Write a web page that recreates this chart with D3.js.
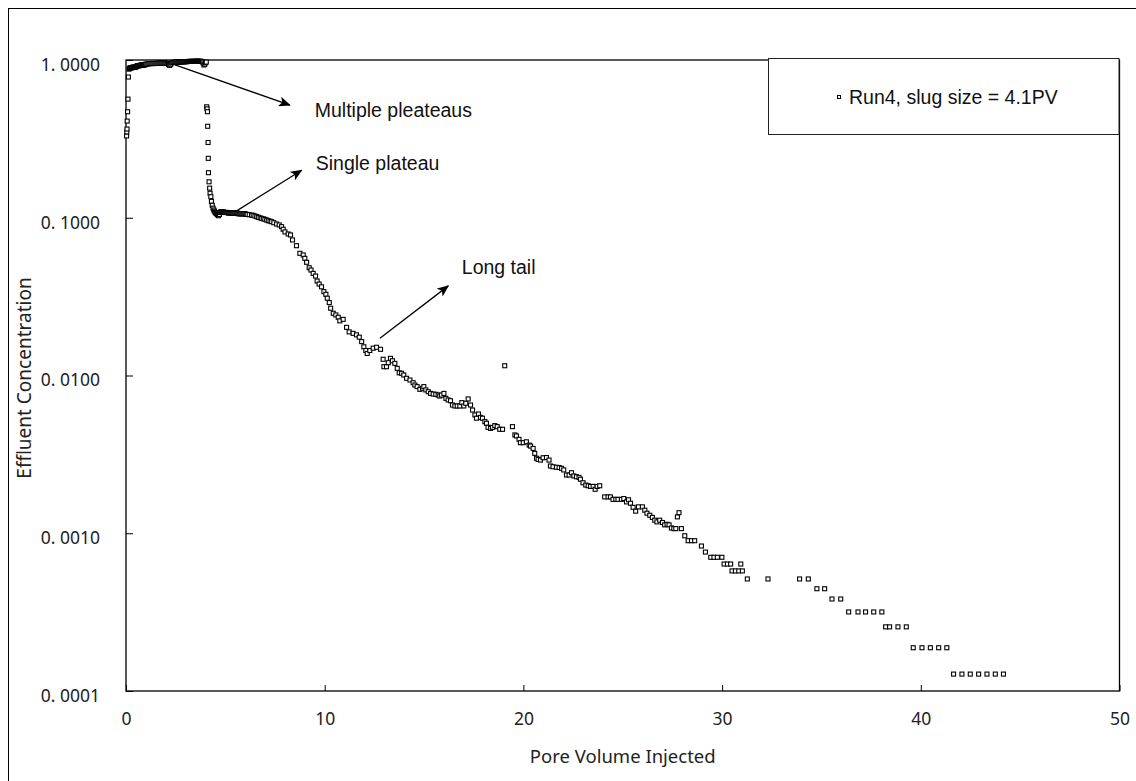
<!DOCTYPE html>
<html><head><meta charset="utf-8">
<script src="https://cdn.jsdelivr.net/npm/d3@7"></script>
<style>
html,body{margin:0;padding:0;background:#fff;}
svg{display:block;}
</style>
</head><body>
<svg id="chart" width="1136" height="781"></svg>
<script>
// ---- data ----
const seriesName = "Run4, slug size = 4.1PV";
const pvInjected = [
0.03,0.04,0.05,0.06,0.08,0.10,0.12,
0.15,0.18,0.20,0.23,0.25,0.28,0.30,0.33,0.35,0.38,0.40,0.43,0.45,0.48,0.50,0.53,0.55,0.58,0.60,0.63,0.65,0.68,0.70,0.73,0.75,0.78,0.80,0.83,0.85,0.88,0.90,0.93,0.95,0.98,1.00,
1.05,1.10,1.15,1.20,1.25,1.30,1.35,1.40,1.45,1.50,1.55,1.60,1.65,1.70,1.75,1.80,1.85,1.90,1.95,2.00,2.05,2.10,2.14,2.17,2.20,2.25,2.30,2.35,2.40,2.45,2.50,2.55,2.60,2.65,2.70,2.75,2.80,2.85,2.90,2.95,3.00,
3.05,3.10,3.15,3.20,3.25,3.30,3.35,3.40,3.45,3.50,3.55,3.60,3.65,3.70,3.75,3.80,3.85,3.88,3.92,3.96,4.00,4.04,
4.06,4.08,4.10,4.11,4.13,4.14,4.15,4.18,4.21,4.23,4.27,4.30,4.34,4.38,4.42,4.45,4.49,4.52,4.56,4.60,4.63,4.66,4.70,4.73,4.77,
4.80,4.85,4.90,4.95,5.00,5.05,5.10,5.15,5.20,5.25,5.30,5.35,5.40,5.45,5.50,5.55,5.60,5.65,5.70,5.75,5.80,5.85,5.90,5.95,6.00,6.05,6.10,6.20,6.32,6.40,6.49,6.58,6.66,6.75,6.83,6.91,6.99,7.08,7.16,7.25,7.33,7.44,7.58,7.71,7.83,7.91,8.00,
8.16,8.28,8.38,8.58,8.75,8.92,9.00,9.09,9.22,9.31,9.42,9.54,9.62,9.72,9.84,9.96,10.06,10.13,10.23,10.30,10.43,10.56,10.68,10.76,10.93,
11.10,11.23,11.43,11.60,11.74,11.86,11.97,12.07,12.14,12.27,12.44,12.61,12.81,
12.94,12.98,13.11,13.20,13.31,13.41,13.53,13.65,13.75,13.87,13.98,14.12,14.29,14.45,14.54,14.65,14.79,14.92,14.99,15.09,15.21,15.33,15.46,15.59,15.71,15.79,15.88,16.00,
16.10,16.21,16.33,16.43,16.55,16.67,16.80,16.90,17.00,17.10,17.22,17.34,17.44,17.56,17.64,17.74,17.84,17.94,18.06,18.14,18.22,18.35,18.45,18.56,18.68,18.81,18.95,
19.06,19.45,19.57,19.65,19.78,19.85,19.99,20.15,20.29,20.36,20.49,20.57,20.66,20.74,20.86,20.99,21.16,21.29,21.36,21.49,21.66,21.80,21.92,22.03,22.17,22.30,22.42,22.54,22.67,22.80,22.87,
23.00,23.14,23.26,23.38,23.51,23.61,23.71,23.84,24.09,24.26,24.38,24.51,24.65,24.76,24.93,25.05,25.19,25.29,25.39,25.52,25.65,25.79,25.99,26.11,26.22,26.36,26.49,26.61,26.72,26.86,
27.00,27.11,27.23,27.33,27.45,27.57,27.67,27.75,27.83,27.95,28.12,28.29,28.46,28.62,28.96,29.16,29.43,29.59,29.76,29.99,30.10,30.27,30.43,30.50,30.67,30.84,30.94,31.02,31.27,32.31,33.90,34.34,
34.77,35.16,35.53,35.97,36.37,36.84,37.22,37.63,38.04,38.23,38.43,38.85,39.27,39.62,40.06,40.48,40.90,41.31,41.65,42.07,42.49,42.91,43.33,43.75,44.16
];
const concentration = [
0.33,0.35,0.365,0.41,0.47,0.565,0.78,
0.875,0.885,0.89,0.89,0.895,0.893,0.895,0.898,0.90,0.898,0.90,0.90,0.90,0.902,0.905,0.91,0.915,0.918,0.92,0.92,0.92,0.922,0.925,0.925,0.925,0.928,0.93,0.93,0.93,0.93,0.93,0.932,0.935,0.938,0.94,
0.942,0.945,0.947,0.95,0.95,0.95,0.95,0.95,0.95,0.952,0.952,0.952,0.953,0.955,0.955,0.955,0.955,0.955,0.955,0.955,0.953,0.95,0.94,0.93,0.925,0.94,0.96,0.962,0.965,0.967,0.97,0.97,0.97,0.97,0.972,0.972,0.972,0.973,0.975,0.975,0.975,
0.976,0.978,0.979,0.98,0.98,0.98,0.98,0.98,0.981,0.982,0.982,0.982,0.982,0.982,0.981,0.98,0.975,0.96,0.93,0.94,0.96,0.97,
0.505,0.49,0.47,0.38,0.30,0.238,0.193,0.169,0.154,0.143,0.136,0.127,0.12,0.115,0.112,0.11,0.108,0.107,0.106,0.105,0.104,0.103,0.105,0.108,0.109,
0.109,0.109,0.109,0.108,0.108,0.108,0.108,0.107,0.107,0.107,0.107,0.107,0.107,0.107,0.107,0.107,0.107,0.106,0.106,0.106,0.106,0.106,0.106,0.106,0.106,0.105,0.105,0.1045,0.104,0.1035,0.1026,0.1016,0.1006,0.0998,0.099,0.0984,0.0977,0.0967,0.0958,0.0951,0.0944,0.093,0.0913,0.090,0.0878,0.0845,0.0813,
0.0789,0.0778,0.0723,0.0665,0.0595,0.0581,0.0553,0.0522,0.0482,0.0466,0.0444,0.0427,0.0397,0.038,0.0365,0.034,0.0327,0.0309,0.029,0.0267,0.0248,0.0242,0.0234,0.0222,0.0227,
0.0202,0.0189,0.0185,0.0181,0.0175,0.0164,0.0152,0.0144,0.0138,0.0144,0.0149,0.0151,0.01466,
0.01267,0.01137,0.01137,0.01205,0.01285,0.0124,0.01194,0.0111,0.0104,0.01033,0.01007,0.0096,0.00936,0.0090,0.0087,0.0085,0.00817,0.0083,0.0085,0.0081,0.00789,0.0077,0.00763,0.0076,0.00752,0.00741,0.00752,0.0077,
0.00716,0.0070,0.00692,0.0065,0.00641,0.00641,0.00641,0.00673,0.00641,0.00667,0.0071,0.0065,0.00604,0.00562,0.00536,0.0057,0.00543,0.00536,0.0051,0.00498,0.00469,0.00462,0.00469,0.00481,0.00474,0.00456,0.00456,
0.01153,0.00474,0.0042,0.00414,0.00394,0.00375,0.00375,0.0038,0.00362,0.00357,0.00345,0.00321,0.00299,0.00294,0.00291,0.00301,0.00302,0.00291,0.00267,0.00264,0.00262,0.00261,0.00258,0.00252,0.00234,0.00234,0.00242,0.00231,0.00228,0.00226,0.0022,
0.00209,0.00202,0.0020,0.00198,0.00198,0.0019,0.00198,0.0020,0.0017,0.0017,0.0017,0.00164,0.00164,0.00164,0.00164,0.00166,0.00158,0.00163,0.00155,0.00146,0.00138,0.00147,0.00147,0.0014,0.00134,0.0013,0.00126,0.00121,0.00118,0.00121,
0.00117,0.00113,0.00114,0.00113,0.00108,0.00107,0.00107,0.00127,0.00135,0.00107,0.000964,0.000897,0.000897,0.000897,0.00083,0.00076,0.000704,0.000704,0.000704,0.000704,0.000638,0.000638,0.000638,0.000577,0.000577,0.000577,0.000638,0.000577,0.000513,0.000513,0.000513,0.000513,
0.000445,0.000445,0.000383,0.000383,0.000317,0.000317,0.000317,0.000317,0.000317,0.000255,0.000255,0.000255,0.000255,0.000188,0.000188,0.000188,0.000188,0.000188,0.000128,0.000128,0.000128,0.000128,0.000128,0.000128,0.000128
];
const xTickValues = [0,10,20,30,40,50];
const yTickValues = [1,0.1,0.01,0.001,0.0001];
const yTickLabels = ["1. 0000","0. 1000","0. 0100","0. 0010","0. 0001"];
const xTitle = "Pore Volume Injected";
const yTitle = "Effluent Concentration";
const annotations = [
  {text:"Multiple pleateaus", from:[2.47,0.93], to:[8.25,0.518], label:[9.5,0.482]},
  {text:"Single plateau", from:[5.49,0.109], to:[8.84,0.20], label:[9.55,0.222]},
  {text:"Long tail", from:[12.78,0.0172], to:[16.22,0.037], label:[16.9,0.0486]}
];

// ---- layout ----
const svg = d3.select("#chart");
const L = 126, R = 1119.5, T = 60, B = 691;
const x = d3.scaleLinear().domain([0,50]).range([L,R]);
const y = d3.scaleLog().domain([0.0001,1]).range([B,T]);
const tickFont = "'Noto Sans', 'DejaVu Sans', sans-serif";
const arial = "'Liberation Sans', Arial, sans-serif";

// outer frame
svg.append("rect").attr("x",8.5).attr("y",8.5).attr("width",1140).attr("height",790)
  .attr("fill","none").attr("stroke","#000").attr("stroke-width",1);

// plot border
svg.append("rect").attr("x",L).attr("y",T).attr("width",R-L).attr("height",B-T)
  .attr("fill","none").attr("stroke","#000").attr("stroke-width",1.3);

// axes
const yAxis = d3.axisLeft(y).tickValues(yTickValues)
  .tickFormat((d,i)=>yTickLabels[i]).tickSize(-7).tickPadding(26);
const gy = svg.append("g").attr("transform",`translate(${L},0)`).call(yAxis);
gy.select(".domain").remove();
gy.selectAll(".tick line").attr("stroke","#000").attr("stroke-width",1);
gy.selectAll(".tick text").attr("font-family",tickFont).attr("font-size",17.5)
  .attr("fill","#222").attr("dy","0.65em").attr("y",-1);

const xAxis = d3.axisBottom(x).tickValues(xTickValues).tickSize(-6).tickPadding(22);
const gx = svg.append("g").attr("transform",`translate(0,${B})`).call(xAxis);
gx.select(".domain").remove();
gx.selectAll(".tick line").attr("stroke","#000").attr("stroke-width",1);
gx.selectAll(".tick text").attr("font-family",tickFont).attr("font-size",17.5).attr("fill","#222");

// axis titles
svg.append("text").attr("x",(L+R)/2).attr("y",763).attr("text-anchor","middle")
  .attr("font-family",tickFont).attr("font-size",18.5).attr("fill","#222").text(xTitle);
svg.append("text").attr("transform","translate(31,378) rotate(-90)").attr("text-anchor","middle")
  .attr("font-family",tickFont).attr("font-size",19).attr("fill","#222").text(yTitle);

// markers
const pts = pvInjected.map((v,i)=>({x:v,y:concentration[i]}));
svg.append("g").selectAll("rect").data(pts).join("rect")
  .attr("x",d=>x(d.x)-2).attr("y",d=>y(d.y)-2).attr("width",4).attr("height",4)
  .attr("fill","#fff").attr("stroke","#000").attr("stroke-width",1.1);

// arrows
const defs = svg.append("defs");
defs.append("marker").attr("id","ah").attr("viewBox","0 0 12 10").attr("refX",11).attr("refY",5)
  .attr("markerWidth",12).attr("markerHeight",10).attr("markerUnits","userSpaceOnUse").attr("orient","auto")
  .append("path").attr("d","M0,0 L12,5 L0,10 L3,5 Z").attr("fill","#000");
annotations.forEach(a=>{
  svg.append("line").attr("x1",x(a.from[0])).attr("y1",y(a.from[1]))
    .attr("x2",x(a.to[0])).attr("y2",y(a.to[1]))
    .attr("stroke","#000").attr("stroke-width",1.3).attr("marker-end","url(#ah)");
  svg.append("text").attr("x",x(a.label[0])).attr("y",y(a.label[1])).attr("dy","0.35em")
    .attr("font-family",arial).attr("font-size",19.5).attr("fill","#111").text(a.text);
});

// legend
svg.append("rect").attr("x",768.5).attr("y",58.5).attr("width",350.5).attr("height",76)
  .attr("fill","#fff").attr("stroke","#222").attr("stroke-width",1);
svg.append("rect").attr("x",837.5).attr("y",95.5).attr("width",3).attr("height",3)
  .attr("fill","#fff").attr("stroke","#000").attr("stroke-width",1);
svg.append("text").attr("x",849).attr("y",104).attr("font-family",arial).attr("font-size",19.5)
  .attr("fill","#111").text(seriesName);
</script>
</body></html>
